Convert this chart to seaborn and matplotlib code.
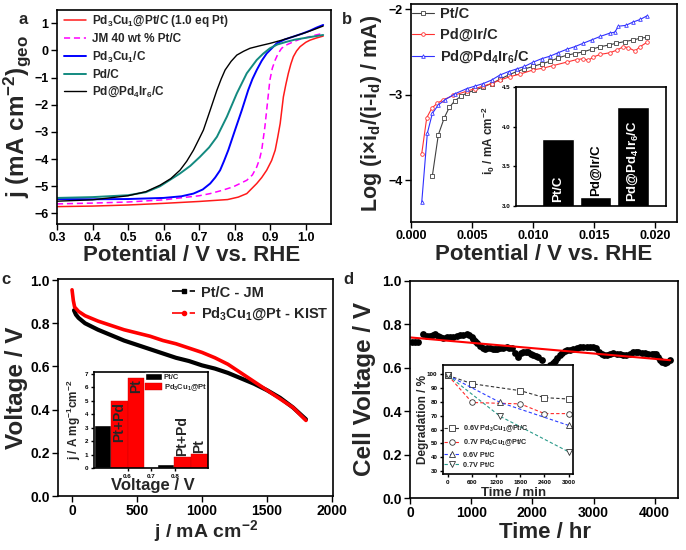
import numpy as np
import pandas as pd
import seaborn as sns
import matplotlib.pyplot as plt
from matplotlib.lines import Line2D

# ---- panel a : ORR polarisation curves ----
a_pot_red = [0.30, 0.40, 0.50, 0.60, 0.70, 0.78, 0.81, 0.834, 0.862, 0.876, 0.89, 0.904, 0.914, 0.921, 0.928,
             0.937, 0.944, 0.951, 0.958, 0.965, 0.974, 0.984, 1.00, 1.012, 1.03, 1.049]
a_j_red = [-5.75, -5.73, -5.69, -5.63, -5.56, -5.49, -5.40, -5.27, -4.90, -4.68, -4.41, -4.05, -3.67, -3.20, -2.69,
           -1.71, -1.25, -0.84, -0.50, -0.23, -0.02, 0.14, 0.30, 0.38, 0.46, 0.53]
a_pot_jm = [0.30, 0.40, 0.50, 0.60, 0.70, 0.731, 0.765, 0.796, 0.834, 0.850, 0.862, 0.870, 0.876, 0.885, 0.892,
            0.899, 0.906, 0.914, 0.922, 0.932, 0.945, 0.965, 0.985, 1.003, 1.025, 1.049]
a_j_jm = [-5.65, -5.62, -5.58, -5.50, -5.35, -5.27, -5.15, -5.02, -4.78, -4.58, -4.29, -4.00, -3.67, -2.81, -1.95,
          -1.09, -0.65, -0.35, -0.12, 0.08, 0.20, 0.32, 0.42, 0.48, 0.56, 0.63]
a_pot_pdcu = [0.30, 0.40, 0.50, 0.60, 0.65, 0.684, 0.710, 0.731, 0.745, 0.759, 0.770, 0.782, 0.801, 0.820, 0.838,
              0.850, 0.862, 0.876, 0.890, 0.918, 0.940, 0.965, 0.990, 1.012, 1.030, 1.049]
a_j_pdcu = [-5.47, -5.48, -5.47, -5.43, -5.37, -5.27, -5.12, -4.90, -4.68, -4.41, -4.07, -3.67, -2.93, -2.20, -1.46,
            -1.05, -0.72, -0.38, -0.11, 0.26, 0.40, 0.51, 0.62, 0.73, 0.84, 0.94]
a_pot_pd = [0.30, 0.40, 0.50, 0.55, 0.59, 0.646, 0.675, 0.702, 0.728, 0.750, 0.778, 0.806, 0.834, 0.862, 0.880,
            0.899, 0.920, 0.946, 0.970, 0.993, 1.02, 1.049]
a_j_pd = [-5.43, -5.40, -5.33, -5.22, -5.00, -4.53, -4.25, -3.92, -3.57, -3.18, -2.44, -1.58, -0.84, -0.35, -0.12,
          0.08, 0.22, 0.32, 0.40, 0.45, 0.51, 0.57]
a_pot_pdir = [0.30, 0.40, 0.50, 0.55, 0.59, 0.620, 0.646, 0.665, 0.684, 0.700, 0.712, 0.731, 0.750, 0.762, 0.773,
              0.790, 0.806, 0.825, 0.843, 0.870, 0.899, 0.930, 0.965, 1.000, 1.025, 1.049]
a_j_pdir = [-5.55, -5.50, -5.35, -5.20, -4.96, -4.72, -4.41, -4.08, -3.67, -3.25, -2.93, -2.20, -1.46, -1.05, -0.72,
            -0.40, -0.17, -0.03, 0.08, 0.17, 0.26, 0.37, 0.51, 0.66, 0.78, 0.90]

# ---- panel b : Tafel-type curves ----
b_x_ptc = [0.00175, 0.00224, 0.00273, 0.00314, 0.0036, 0.0041, 0.00457, 0.0052, 0.00593, 0.0066, 0.0073, 0.008,
           0.00866, 0.0093, 0.01002, 0.0107, 0.0114, 0.01206, 0.01276, 0.0134, 0.0141, 0.0148, 0.0155, 0.0162,
           0.0168, 0.0175, 0.01822, 0.0188, 0.01932]
b_y_ptc = [-3.95, -3.47, -3.27, -3.15, -3.07, -3.02, -2.98, -2.95, -2.91, -2.87, -2.82, -2.77, -2.73, -2.70, -2.67,
           -2.64, -2.61, -2.57, -2.54, -2.52, -2.50, -2.47, -2.44, -2.42, -2.40, -2.38, -2.36, -2.34, -2.33]
b_x_pdir = [0.00088, 0.00129, 0.0017, 0.00216, 0.00265, 0.00347, 0.00457, 0.00525, 0.00593, 0.0066, 0.0073,
            0.00811, 0.00893, 0.01003, 0.01084, 0.01166, 0.01276, 0.01358, 0.01412, 0.01453, 0.01494, 0.0155,
            0.01631, 0.01686, 0.0174, 0.01781, 0.01836, 0.01877, 0.01932]
b_y_pdir = [-3.69, -3.27, -3.16, -3.10, -3.06, -3.01, -2.96, -2.93, -2.90, -2.87, -2.83, -2.79, -2.76, -2.71, -2.69,
            -2.66, -2.62, -2.59, -2.58, -2.60, -2.56, -2.53, -2.51, -2.48, -2.44, -2.45, -2.49, -2.44, -2.39]
b_x_pdpdir = [0.00088, 0.00134, 0.00175, 0.00224, 0.00279, 0.0036, 0.00457, 0.00525, 0.00593, 0.0066, 0.0073,
              0.008, 0.00866, 0.0093, 0.01002, 0.0107, 0.0114, 0.01206, 0.01276, 0.0134, 0.0141, 0.0148, 0.0155,
              0.01631, 0.0167, 0.017, 0.0176, 0.01822, 0.0188, 0.01932]
b_y_pdpdir = [-4.26, -3.45, -3.22, -3.12, -3.06, -2.99, -2.93, -2.90, -2.87, -2.83, -2.77, -2.73, -2.70, -2.67,
              -2.62, -2.58, -2.55, -2.51, -2.47, -2.44, -2.40, -2.36, -2.32, -2.28, -2.27, -2.20, -2.19, -2.15,
              -2.12, -2.08]
b_bar_names = ['Pt/C', 'Pd@Ir/C', 'Pd@Pd$_4$Ir$_6$/C']
b_bar_i0 = [3.85, 3.11, 4.25]

# ---- panel c : single cell polarisation ----
c_j_ptc = [15, 30, 50, 100, 200, 300, 400, 500, 600, 700, 800, 900, 1000, 1100, 1200, 1300, 1400, 1500, 1600,
           1700, 1800]
c_v_ptc = [0.86, 0.84, 0.825, 0.80, 0.77, 0.745, 0.72, 0.70, 0.68, 0.66, 0.64, 0.625, 0.605, 0.59, 0.57, 0.545,
           0.52, 0.49, 0.455, 0.41, 0.355]
c_j_pdcu = [0, 5, 10, 20, 50, 100, 200, 300, 400, 500, 600, 700, 800, 900, 1000, 1100, 1200, 1300, 1400, 1500,
            1600, 1700, 1800]
c_v_pdcu = [0.955, 0.93, 0.905, 0.875, 0.855, 0.835, 0.81, 0.79, 0.77, 0.755, 0.74, 0.72, 0.705, 0.685, 0.665,
            0.64, 0.61, 0.57, 0.53, 0.49, 0.45, 0.41, 0.35]
c_bar_volt = [0.6, 0.8]
c_bar_ptc = [3.2, 0.3]
c_bar_ptpd = [5.0, 0.8]
c_bar_pt = [6.7, 1.05]

# ---- panel d : durability ----
d_time = [27, 80, 136, 218, 270, 327, 380, 408, 450, 490, 545, 599, 650, 708, 760, 817, 870, 925, 965, 1007,
          1035, 1062, 1100, 1143, 1185, 1225, 1265, 1307, 1350, 1388, 1430, 1470, 1520, 1579, 1620, 1660, 1715,
          1769, 1810, 1851, 1890, 1933, 1975, 2014, 2055, 2096, 2150, 2205, 2286, 2330, 2368, 2410, 2450, 2490,
          2531, 2570, 2613, 2670, 2722, 2775, 2831, 2885, 2940, 2995, 3048, 3090, 3130, 3170, 3212, 3265, 3321,
          3375, 3430, 3485, 3538, 3590, 3647, 3690, 3729, 3785, 3838, 3890, 3947, 3990, 4028, 4060, 4083, 4120,
          4164, 4200, 4246]
d_volt = [0.717, 0.717, 0.717, 0.754, 0.748, 0.746, 0.752, 0.754, 0.748, 0.743, 0.738, 0.740, 0.742, 0.743, 0.746,
          0.749, 0.752, 0.754, 0.750, 0.743, 0.733, 0.723, 0.712, 0.700, 0.692, 0.685, 0.690, 0.692, 0.688, 0.686,
          0.688, 0.689, 0.693, 0.697, 0.693, 0.689, 0.666, 0.651, 0.668, 0.674, 0.673, 0.671, 0.665, 0.658, 0.655,
          0.651, 0.635, 0.605, 0.612, 0.622, 0.631, 0.645, 0.658, 0.668, 0.677, 0.680, 0.682, 0.688, 0.692, 0.695,
          0.697, 0.697, 0.697, 0.694, 0.689, 0.675, 0.662, 0.660, 0.658, 0.662, 0.666, 0.664, 0.662, 0.660, 0.658,
          0.665, 0.671, 0.671, 0.671, 0.668, 0.666, 0.664, 0.662, 0.662, 0.662, 0.648, 0.635, 0.628, 0.620, 0.627,
          0.635]
d_fit_time = [0, 4250]
d_fit_volt = [0.74, 0.635]
di_t_sq = [0, 600, 1800, 2400, 3000]
di_v_sq = [99, 93, 88, 83, 82]
di_t_ci = [0, 600, 1800, 2400, 3000]
di_v_ci = [99, 79.5, 78.5, 71.5, 71.5]
di_t_up = [0, 1300, 3000]
di_v_up = [99, 79.5, 63]
di_t_dn = [0, 1300, 3000]
di_v_dn = [99, 69.5, 44]

sns.set_theme(style="ticks")
plt.rcParams['font.family'] = ['Liberation Sans', 'DejaVu Sans']
plt.rcParams['font.weight'] = 'bold'
plt.rcParams['axes.labelweight'] = 'bold'
plt.rcParams['mathtext.fontset'] = 'custom'
plt.rcParams['mathtext.rm'] = 'Liberation Sans:bold'
plt.rcParams['mathtext.it'] = 'Liberation Sans:bold'
plt.rcParams['mathtext.bf'] = 'Liberation Sans:bold'
plt.rcParams['mathtext.default'] = 'rm'
plt.rcParams['axes.linewidth'] = 1.2
plt.rcParams['axes.edgecolor'] = 'black'
plt.rcParams['xtick.color'] = 'black'
plt.rcParams['ytick.color'] = 'black'

fig = plt.figure(figsize=(6.86, 5.5), dpi=100)


def px_axes(left, top, right, bottom):
    return fig.add_axes([left / 686, 1 - bottom / 550, (right - left) / 686, (bottom - top) / 550])


def style_ticks(ax, size, length=4):
    ax.tick_params(direction='out', length=length, width=1, labelsize=size, pad=2)
    for lab in ax.get_xticklabels() + ax.get_yticklabels():
        lab.set_fontweight('bold')


def line(ax, x, y, **kw):
    sns.lineplot(x=x, y=y, ax=ax, estimator=None, sort=False, **kw)


# ================= a =================
ax = px_axes(57, 10, 331, 224)
line(ax, a_pot_red, a_j_red, color='#ff1a1a', lw=1.1, label='Pd$_3$Cu$_1$@Pt/C (1.0 eq Pt)')
line(ax, a_pot_jm, a_j_jm, color='#ff00ff', lw=1.1, dashes=(4, 2.5), label='JM 40 wt % Pt/C')
line(ax, a_pot_pdcu, a_j_pdcu, color='#0000ff', lw=1.4, label='Pd$_3$Cu$_1$/C')
line(ax, a_pot_pd, a_j_pd, color='#138a80', lw=1.4, label='Pd/C')
line(ax, a_pot_pdir, a_j_pdir, color='black', lw=1.0, label='Pd@Pd$_4$Ir$_6$/C')
ax.set_xlim(0.3, 1.071)
ax.set_ylim(-6.39, 1.49)
ax.set_xticks(np.arange(0.3, 1.01, 0.1))
ax.set_yticks(range(-6, 2))
ax.xaxis.set_major_formatter(plt.FormatStrFormatter('%.1f'))
style_ticks(ax, 9)
ax.set_xlabel('Potential / V vs. RHE', fontsize=16, fontweight='bold')
ax.set_ylabel('j (mA cm$^{-2}$)$_{geo}$', fontsize=17.5, fontweight='bold')
ax.xaxis.set_label_coords(0.49, -0.1)
ax.yaxis.set_label_coords(-0.088, 0.5)
ax.legend(loc='upper left', bbox_to_anchor=(0.025, 0.985), frameon=False, fontsize=8.5,
          handlelength=1.9, handletextpad=0.5, labelspacing=0.35, borderpad=0, borderaxespad=0)

# ================= b =================
ax = px_axes(411, 4, 677, 222)
for bx, by, col, mk, lab in [(b_x_ptc, b_y_ptc, '#404040', 's', 'Pt/C'),
                             (b_x_pdir, b_y_pdir, '#ff3030', 'o', 'Pd@Ir/C'),
                             (b_x_pdpdir, b_y_pdpdir, '#3030ff', '^', 'Pd@Pd$_4$Ir$_6$/C')]:
    line(ax, bx, by, color=col, lw=0.8, marker=mk, ms=2.6, mfc='white', mec=col, mew=0.6, label=lab)
ax.set_xlim(0, 0.0218)
ax.set_ylim(-4.49, -1.94)
ax.set_xticks([0, 0.005, 0.010, 0.015, 0.020])
ax.set_yticks([-4, -3, -2])
ax.xaxis.set_major_formatter(plt.FormatStrFormatter('%.3f'))
style_ticks(ax, 9)
ax.set_xlabel('Potential / V vs. RHE', fontsize=16, fontweight='bold')
ax.set_ylabel('Log (i×i$_d$/(i-i$_d$) / mA)', fontsize=15.5, fontweight='bold')
ax.xaxis.set_label_coords(0.5, -0.1)
ax.yaxis.set_label_coords(-0.1, 0.5)
ax.legend(loc='upper left', bbox_to_anchor=(0.005, 0.985), frameon=False, fontsize=10.5,
          handlelength=1.5, handletextpad=0.4, labelspacing=0.45, borderpad=0, borderaxespad=0)

# inset b
ax = px_axes(516, 87, 666, 206)
sns.barplot(x=b_bar_names, y=b_bar_i0, color='black', saturation=1, width=0.85, ax=ax)
ax.set_xlim(-1.12, 2.88)
ax.set_ylim(3.0, 4.5)
ax.set_yticks([3.0, 3.5, 4.0, 4.5])
ax.set_xticks([])
ax.set_xlabel('')
style_ticks(ax, 4.5, length=2)
ax.set_ylabel('i$_0$ / mA cm$^{-2}$', fontsize=8.5, fontweight='bold')
ax.yaxis.set_label_coords(-0.125, 0.55)
for i, (name, val) in enumerate(zip(b_bar_names, b_bar_i0)):
    inside = val > 3.5
    ax.text(i, 3.05 if inside else val + 0.01, name, rotation=90, ha='center', va='bottom',
            color='white' if inside else 'black', fontsize=9.5, fontweight='bold')

# ================= c =================
ax = px_axes(58, 279, 333, 496)
line(ax, c_j_ptc, c_v_ptc, color='black', lw=3.0)
line(ax, c_j_pdcu, c_v_pdcu, color='#ff0000', lw=2.6)
ax.set_xlim(-108, 2008)
ax.set_ylim(0, 1.005)
ax.set_xticks([0, 500, 1000, 1500, 2000])
ax.set_yticks([0.0, 0.2, 0.4, 0.6, 0.8, 1.0])
ax.yaxis.set_major_formatter(plt.FormatStrFormatter('%.1f'))
style_ticks(ax, 10)
ax.set_xlabel('j / mA cm$^{-2}$', fontsize=14, fontweight='bold')
ax.set_ylabel('Voltage / V', fontsize=17.5, fontweight='bold')
ax.xaxis.set_label_coords(0.54, -0.1)
ax.yaxis.set_label_coords(-0.11, 0.5)
handles = [Line2D([], [], color='black', ls='-.', lw=1.2, marker='s', ms=3),
           Line2D([], [], color='#ff0000', ls='-.', lw=1.2, marker='o', ms=3)]
ax.legend(handles, ['Pt/C - JM', 'Pd$_3$Cu$_1$@Pt - KIST'], loc='upper left', bbox_to_anchor=(0.415, 0.97),
          frameon=False, fontsize=10.5, handlelength=1.6, handletextpad=0.35, labelspacing=0.4,
          borderpad=0, borderaxespad=0)

# inset c
ax = px_axes(94, 372, 208, 468)
group_x = [0.565, 0.829]
offsets = [-0.07, 0.0, 0.07]
bw = 0.07
ax.bar([g + offsets[0] for g in group_x], c_bar_ptc, width=bw, color='black', label='Pt/C')
ax.bar([g + offsets[1] for g in group_x], c_bar_ptpd, width=bw, color='#ff0000', edgecolor='#cc0000',
       lw=0.3, label='Pd$_3$Cu$_1$@Pt')
ax.bar([g + offsets[2] for g in group_x], c_bar_pt, width=bw, color='#ff0000', edgecolor='#cc0000', lw=0.3)
for vals, off, txt in [(c_bar_ptpd, offsets[1], 'Pt+Pd'), (c_bar_pt, offsets[2], 'Pt')]:
    for g, v in zip(group_x, vals):
        if v > 3:
            ax.text(g + off, v - 0.1, txt, rotation=90, ha='center', va='top', fontsize=10, fontweight='bold')
        else:
            ax.text(g + off, v + 0.1, txt, rotation=90, ha='center', va='bottom', fontsize=10, fontweight='bold')
ax.set_xlim(0.46, 0.936)
ax.set_ylim(0, 7.15)
ax.set_xticks([0.6, 0.7, 0.8])
ax.set_yticks(range(0, 8))
style_ticks(ax, 4.5, length=2)
ax.set_xlabel('Voltage / V', fontsize=12, fontweight='bold')
ax.set_ylabel('j / A mg$^{-1}$cm$^{-2}$', fontsize=8.5, fontweight='bold')
ax.xaxis.set_label_coords(0.52, -0.1)
ax.yaxis.set_label_coords(-0.1, 0.5)
ax.legend(loc='upper right', bbox_to_anchor=(1.0, 1.0), frameon=False, fontsize=5.5, handlelength=2.2,
          handleheight=1.0, handletextpad=0.3, labelspacing=0.2, borderpad=0.1, borderaxespad=0)

# ================= d =================
ax = px_axes(410, 281, 678, 498)
sns.scatterplot(x=d_time, y=d_volt, color='black', s=24, linewidth=0, ax=ax)
line(ax, d_fit_time, d_fit_volt, color='#ff0000', lw=1.5)
ax.set_xlim(0, 4380)
ax.set_ylim(0, 1.0)
ax.set_xticks([0, 1000, 2000, 3000, 4000])
ax.set_yticks([0.0, 0.2, 0.4, 0.6, 0.8, 1.0])
ax.yaxis.set_major_formatter(plt.FormatStrFormatter('%.1f'))
style_ticks(ax, 10)
ax.set_xlabel('Time / hr', fontsize=16, fontweight='bold')
ax.set_ylabel('Cell Voltage / V', fontsize=17.5, fontweight='bold')
ax.xaxis.set_label_coords(0.504, -0.11)
ax.yaxis.set_label_coords(-0.125, 0.5)

# inset d
ax = px_axes(443, 365, 573, 474)
ax.set_facecolor('white')
series = [(di_t_sq, di_v_sq, '#333333', 's', '0.6V Pd$_3$Cu$_1$@Pt/C'),
          (di_t_ci, di_v_ci, '#ff2a2a', 'o', '0.7V Pd$_3$Cu$_1$@Pt/C'),
          (di_t_up, di_v_up, '#2a3cff', '^', '0.6V Pt/C'),
          (di_t_dn, di_v_dn, '#2a9a8a', 'v', '0.7V Pt/C')]
handles = []
for t, v, col, mk, lab in series:
    line(ax, t, v, color=col, lw=0.8, dashes=(3, 2))
    ax.plot(t, v, ls='none', marker=mk, ms=4, mfc='white', mec='#333333', mew=0.6)
    handles.append(Line2D([], [], color=col, lw=0.8, ls=(0, (3, 2)), marker=mk, ms=4, mfc='white',
                          mec='#333333', mew=0.6))
ax.set_xlim(-124, 3110)
ax.set_ylim(28, 106.5)
ax.set_xticks(range(0, 3001, 600))
ax.set_yticks(range(30, 101, 10))
style_ticks(ax, 4.5, length=2)
ax.set_xlabel('Time / min', fontsize=9.5, fontweight='bold')
ax.set_ylabel('Degradation / %', fontsize=8.5, fontweight='bold')
ax.xaxis.set_label_coords(0.54, -0.115)
ax.yaxis.set_label_coords(-0.11, 0.5)
ax.legend(handles, [s[4] for s in series], loc='lower left', bbox_to_anchor=(0.0, 0.04), frameon=False,
          fontsize=5.2, handlelength=2.2, handletextpad=0.5, labelspacing=0.45, borderpad=0.1,
          borderaxespad=0)

# panel letters
for x, y, s in [(23, 20, 'a'), (347, 20, 'b'), (6, 279, 'c'), (348, 279, 'd')]:
    fig.text(x / 686, 1 - y / 550, s, fontsize=12, fontweight='bold', ha='center', va='center')

fig.savefig('out.png', dpi=100)
